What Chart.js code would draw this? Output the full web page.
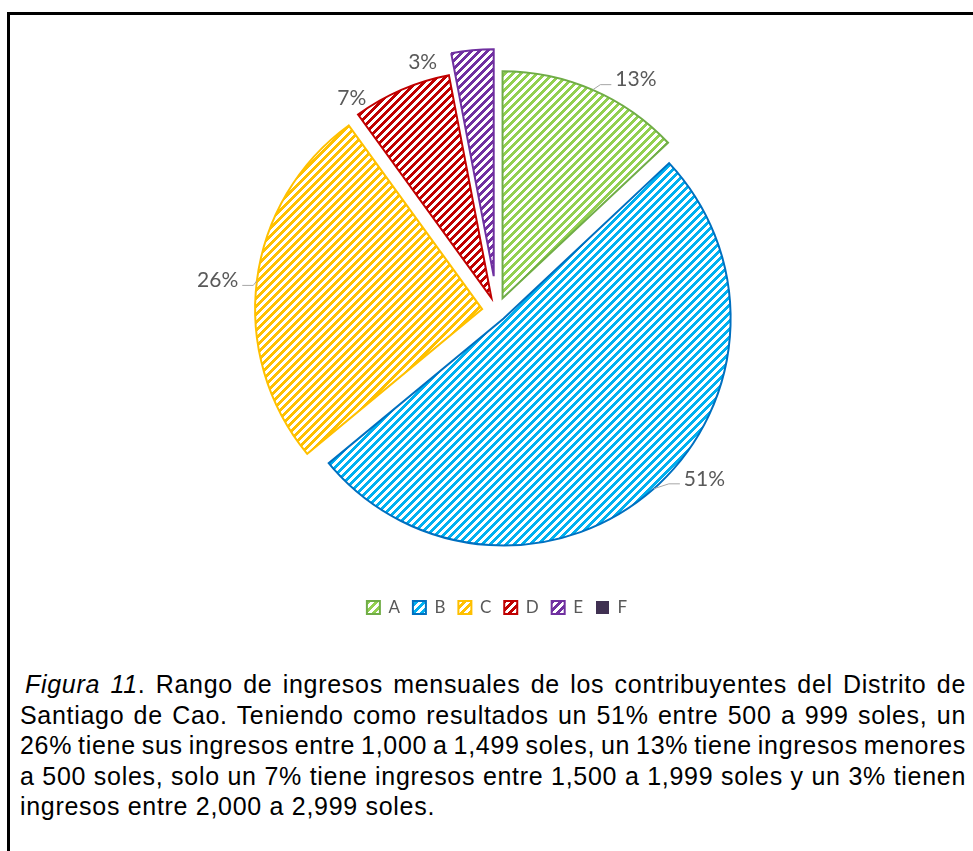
<!DOCTYPE html>
<html>
<head>
<meta charset="utf-8">
<script src="https://cdn.jsdelivr.net/npm/chart.js@4.4.1/dist/chart.umd.min.js"></script>
<style>
  html, body { margin: 0; padding: 0; background: #fff; }
  body { width: 973px; height: 851px; position: relative; overflow: hidden; }
  #frame { position: absolute; left: 7px; top: 12px; right: -10px; bottom: -10px;
           border-top: 3px solid #000; border-left: 3px solid #000; }
  #pie { position: absolute; left: 0; top: 0; }
  #caption { position: absolute; left: 20px; top: 669px; width: 946px;
             font-family: "Liberation Sans", Arial, sans-serif; font-size: 25px;
             letter-spacing: 0.7px; line-height: 30.5px; color: #000; }
  #caption .ln { white-space: nowrap; }
</style>
</head>
<body>
<div id="frame"></div>
<canvas id="pie" width="973" height="640"></canvas>
<div id="caption">
  <div class="ln fit" style="padding-left:5px"><span><i>Figura 11</i>. Rango de ingresos mensuales de los contribuyentes del Distrito de</span></div>
  <div class="ln fit"><span>Santiago de Cao. Teniendo como resultados un 51% entre 500 a 999 soles, un</span></div>
  <div class="ln fit"><span>26% tiene sus ingresos entre 1,000 a 1,499 soles, un 13% tiene ingresos menores</span></div>
  <div class="ln fit"><span>a 500 soles, solo un 7% tiene ingresos entre 1,500 a 1,999 soles y un 3% tienen</span></div>
  <div class="ln"><span>ingresos entre 2,000 a 2,999 soles.</span></div>
</div>
<script>
// chart values
const categories = ['A', 'B', 'C', 'D', 'E', 'F'];
const shares = [13, 51, 26, 7, 3, 0];

// slice styles
const stripeColors = ['#92D050', '#00B0F0', '#FFC000', '#C00000', '#7030A0', '#403152'];
const edgeColors = ['#70AD47', '#0070C0', '#FFC000', '#C00000', '#7030A0', '#403152'];
const explode = [14, 10, 15, 14, 35, 0];

// wide upward diagonal hatch, like the excel fill
function hatch(color) {
    let p = 8, w = 4;
    let c = document.createElement('canvas');
    c.width = p;
    c.height = p;
    let g = c.getContext('2d');
    g.fillStyle = '#fff';
    g.fillRect(0, 0, p, p);
    g.fillStyle = color;
    for (let y = 0; y < p; y++) {
        for (let x = 0; x < p; x++) {
            if ((x + y) % p < w) g.fillRect(x, y, 1, 1);
        }
    }
    return g.createPattern(c, 'repeat');
}

let fills = stripeColors.map((c, i) => i < 5 ? hatch(c) : c);

// move every slice out along its middle angle
const explodePlugin = {
    id: 'explode',
    afterDatasetUpdate(chart, args, opts) {
        let meta = chart.getDatasetMeta(args.index);
        meta.data.forEach((arc, i) => {
            let d = opts.distance[i] || 0;
            let mid = (arc.startAngle + arc.endAngle) / 2;
            arc.x += Math.cos(mid) * d;
            arc.y += Math.sin(mid) * d;
        });
    }
};

// percent labels with leader lines
const labelPlugin = {
    id: 'sliceLabels',
    afterDatasetsDraw(chart, args, opts) {
        let ctx = chart.ctx;
        let meta = chart.getDatasetMeta(0);
        ctx.save();
        ctx.font = opts.font;
        ctx.textAlign = 'center';
        ctx.textBaseline = 'middle';
        meta.data.forEach((arc, i) => {
            if (!shares[i]) return;
            let text = shares[i] + '%';
            let mid = (arc.startAngle + arc.endAngle) / 2;
            let a = mid + opts.shift[i] * Math.PI / 180;
            let r = arc.outerRadius + opts.gap[i];
            let lx = arc.x + Math.cos(a) * r;
            let ly = arc.y + Math.sin(a) * r;
            if (opts.leader[i]) {
                let w = ctx.measureText(text).width;
                let ax = arc.x + Math.cos(mid) * arc.outerRadius;
                let ay = arc.y + Math.sin(mid) * arc.outerRadius;
                let side = lx > ax ? -1 : 1;
                let ex = lx + side * (w / 2 + 4);
                let ey = ly + 5;
                let bx = ex + side * 11;
                ctx.strokeStyle = '#A6A6A6';
                ctx.lineWidth = 1;
                ctx.beginPath();
                ctx.moveTo(ax, ay);
                ctx.lineTo(bx, ey);
                ctx.lineTo(ex, ey);
                ctx.stroke();
            }
            ctx.fillStyle = '#595959';
            ctx.fillText(text, lx, ly);
        });
        ctx.restore();
    }
};

let config = {
    type: 'pie',
    data: {
        labels: categories,
        datasets: [{
            data: shares,
            backgroundColor: fills,
            borderColor: edgeColors,
            borderWidth: [2, 2, 2, 2, 2, 0],
            borderJoinStyle: 'miter'
        }]
    },
    options: {
        responsive: false,
        animation: false,
        events: [],
        radius: 227,
        layout: { padding: { top: 36, left: 21, right: 0, bottom: 14 } },
        plugins: {
            legend: {
                position: 'bottom',
                labels: {
                    boxWidth: 13,
                    boxHeight: 13,
                    padding: 13,
                    color: '#595959',
                    font: { family: 'Lato', size: 17 }
                }
            },
            tooltip: { enabled: false },
            explode: { distance: explode },
            sliceLabels: {
                font: '21px Lato',
                shift: [8, -10, -1, -11.5, -13],
                gap: [29, 30, 39, 17, -2],
                leader: [true, true, true, false, false]
            }
        }
    },
    plugins: [explodePlugin, labelPlugin]
};

let myChart = new Chart(document.getElementById('pie'), config);

// spread each caption line over the full width, like justified text
document.querySelectorAll('#caption .fit').forEach(function (line) {
    let span = line.querySelector('span');
    let target = line.clientWidth - parseFloat(line.style.paddingLeft || 0);
    let natural = span.getBoundingClientRect().width;
    let gaps = (span.textContent.match(/ /g) || []).length;
    if (gaps > 0) line.style.wordSpacing = ((target - natural) / gaps) + 'px';
});
</script>
</body>
</html>
